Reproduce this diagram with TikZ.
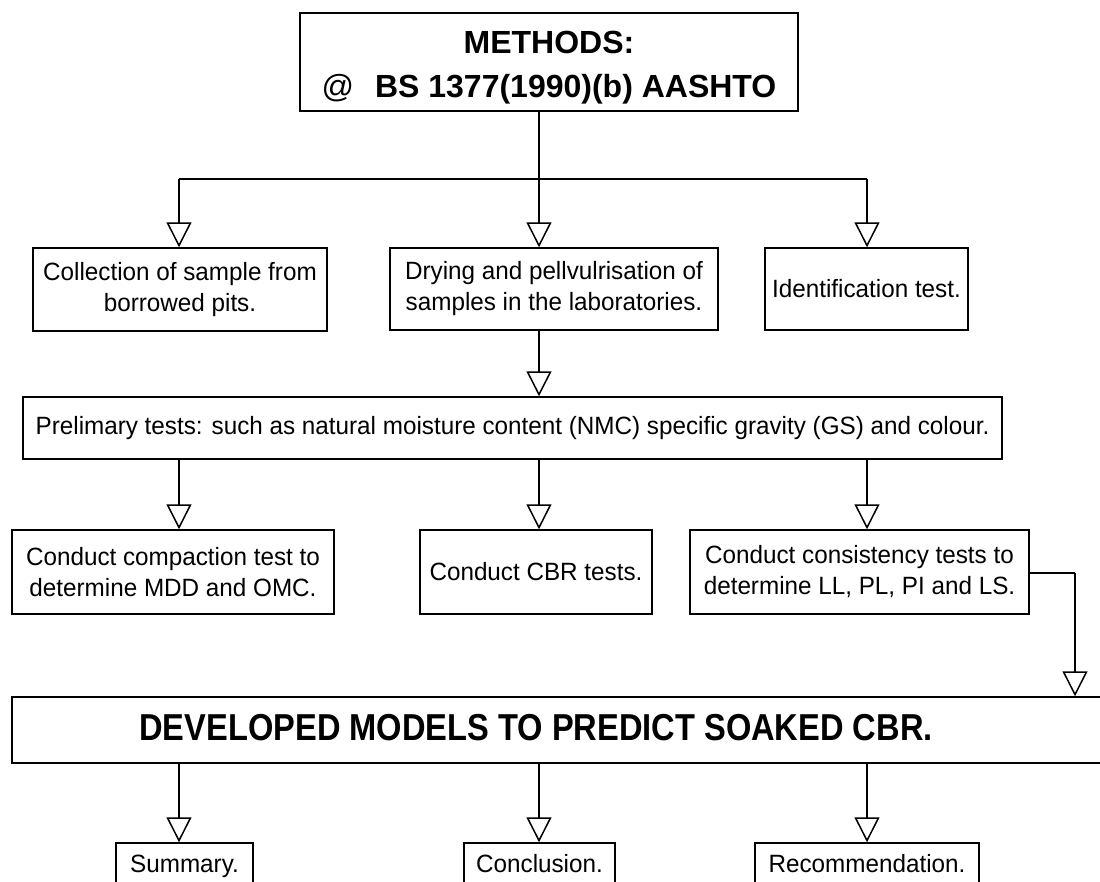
\documentclass[tikz,border=0pt]{standalone}
\usepackage{fontspec}
\setmainfont{Liberation Sans}[FakeStretch=0.97]
\newfontfamily\topfont{Liberation Sans}
\newfontfamily\devfont{Liberation Sans}[FakeStretch=0.87]
\usetikzlibrary{arrows.meta}
\begin{document}
\begin{tikzpicture}[x=1pt,y=-1pt,
  box/.style={draw=black,line width=1.5pt,rectangle,inner sep=0pt,align=center,
    font=\fontsize{25}{31}\selectfont},
  endbox/.style={box,minimum height=46pt,text height=17pt,text depth=5pt},
  conn/.style={draw=black,line width=1.5pt},
  arr/.style={conn,-{Triangle[length=25pt,width=25pt,fill=white,line width=1.5pt]}}]
\useasboundingbox (0,0) rectangle (1100,881);
\clip (0,0) rectangle (1100,881);
% column coordinates
\coordinate (c1) at (179,179);
\coordinate (c2) at (539,179);
\coordinate (c3) at (867,179);
\coordinate (c4) at (1075,573);
% nodes
\node[draw=black,line width=1.5pt,rectangle,inner sep=0pt,
  minimum width=498pt,minimum height=98pt,text height=23pt,text depth=41pt,
  font=\topfont\fontsize{32}{44}\selectfont\bfseries] (top) at (549,62)
  {\begin{tabular}[t]{@{}c@{}}METHODS:\\
   {\mdseries @}\hspace{21pt}BS 1377(1990)(b) AASHTO\end{tabular}};
\node[box,minimum width=294pt,minimum height=83pt] (A) at (180,289.5)
  {Collection of sample from\\borrowed pits.};
\node[box,minimum width=328pt,minimum height=82pt] (B) at (554,289)
  {Drying and pellvulrisation of\\samples in the laboratories.};
\node[box,minimum width=203pt,minimum height=82pt] (C) at (866.5,289)
  {Identification test.};
\node[box,minimum width=979pt,minimum height=62pt] (P) at (512.5,428)
  {Prelimary tests: such as natural moisture content (NMC) specific gravity (GS) and colour.};
\node[box,minimum width=322pt,minimum height=84pt] (D) at (173,572)
  {Conduct compaction test to\\determine MDD and OMC.};
\node[box,minimum width=232pt,minimum height=84pt] (E) at (536,572)
  {Conduct CBR tests.};
\node[box,minimum width=339pt,minimum height=84pt] (F) at (859.5,572)
  {Conduct consistency tests to\\determine LL, PL, PI and LS.};
\node[box,minimum width=1098pt,minimum height=66pt] (dev) at (561,730) {};
\node[inner sep=0pt,font=\devfont\fontsize{37.5}{40}\selectfont\bfseries] (devtext) at (536,728)
  {DEVELOPED MODELS TO PREDICT SOAKED CBR.};
\node[endbox,minimum width=137pt] (S) at (184.5,866) {Summary.};
\node[endbox,minimum width=151pt] (Co) at (539.5,866) {Conclusion.};
\node[endbox,minimum width=224pt] (R) at (867,866) {Recommendation.};
% connectors
\draw[conn] (top.south -| c2) -- (c2);
\draw[conn] (c1) -- (c3);
\draw[arr] (c1) -- (c1 |- A.north);
\draw[arr] (c2) -- (c2 |- B.north);
\draw[arr] (c3) -- (c3 |- C.north);
\draw[arr] (B.south -| c2) -- (P.north -| c2);
\draw[arr] (P.south -| c1) -- (D.north -| c1);
\draw[arr] (P.south -| c2) -- (E.north -| c2);
\draw[arr] (P.south -| c3) -- (F.north -| c3);
\draw[conn] (F.east |- c4) -- (c4);
\draw[arr] (c4) -- (c4 |- dev.north);
\draw[arr] (dev.south -| c1) -- (S.north -| c1);
\draw[arr] (dev.south -| c2) -- (Co.north -| c2);
\draw[arr] (dev.south -| c3) -- (R.north -| c3);
\end{tikzpicture}
\end{document}
